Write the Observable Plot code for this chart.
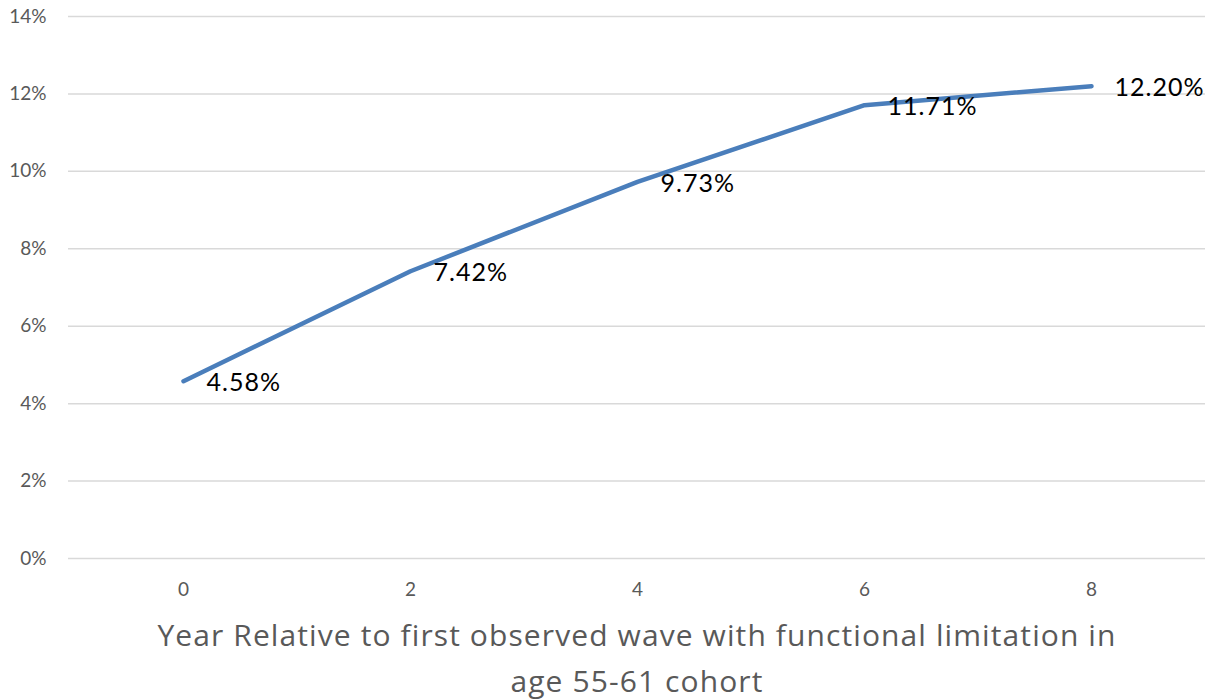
<!DOCTYPE html>
<html>
<head>
<meta charset="utf-8">
<script src="https://cdn.jsdelivr.net/npm/d3@7"></script>
<script src="https://cdn.jsdelivr.net/npm/@observablehq/plot@0.6"></script>
<style>
  html, body { margin: 0; padding: 0; background: #fff; }
  #chart { width: 1214px; }
  #xtitle { width: 1214px; text-align: center; font-family: "Open Sans", Lato, sans-serif; font-size: 30px; letter-spacing: 1.1px; color: #595959; line-height: 46px; margin-top: 0px; padding-left: 60px; box-sizing: border-box; }
</style>
</head>
<body>
<div id="chart"></div>
<div id="xtitle">Year Relative to first observed wave with functional limitation in<br>age 55-61 cohort</div>
<script>
const years = [0, 2, 4, 6, 8];
const shares = [0.0458, 0.0742, 0.0973, 0.1171, 0.1220];
const yTicks = [0, 0.02, 0.04, 0.06, 0.08, 0.10, 0.12, 0.14];
const data = years.map((y, i) => ({year: y, share: shares[i]}));
const fmt = d3.format(".2%");

const chart = Plot.plot({
  width: 1214,
  height: 612,
  marginLeft: 68,
  marginRight: 9,
  marginTop: 16,
  marginBottom: 54,
  style: { fontFamily: 'Lato, "Open Sans", sans-serif', background: "#fff" },
  x: { type: "point", domain: years, padding: 0.5, label: null },
  y: { domain: [0, 0.14], label: null },
  marks: [
    Plot.gridY(yTicks, { stroke: "#d9d9d9", strokeOpacity: 1, strokeWidth: 1.5 }),
    Plot.axisY(yTicks, { tickSize: 0, tickPadding: 22, tickFormat: d3.format(".0%"), fontSize: 19, fill: "#595959", label: null }),
    Plot.axisX(years, { tickSize: 0, tickPadding: 24, fontSize: 19, fill: "#595959", label: null }),
    Plot.line(data, { x: "year", y: "share", stroke: "#4a7ebb", strokeWidth: 4.5, strokeLinecap: "round", strokeLinejoin: "round" }),
    Plot.text(data, { x: "year", y: "share", text: d => fmt(d.share), textAnchor: "start", dx: 23, dy: 2, fontSize: 25, fill: "#000" })
  ]
});
chart.querySelectorAll("text").forEach(t => { if (/\.\d\d%$/.test(t.textContent)) t.setAttribute("letter-spacing", "1"); });
document.getElementById("chart").appendChild(chart);
</script>
</body>
</html>
